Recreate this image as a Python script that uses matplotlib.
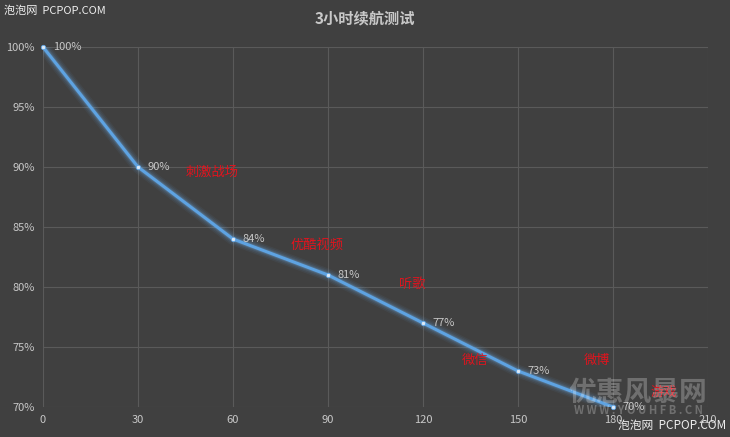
import matplotlib
matplotlib.use('Agg')
import matplotlib.pyplot as plt
from matplotlib.ticker import FuncFormatter

plt.rcParams['font.family'] = ['Noto Sans CJK SC', 'DejaVu Sans']

# ── data ──
minutes = [0, 30, 60, 90, 120, 150, 180]
battery = [100, 90, 84, 81, 77, 73, 70]
point_labels = ['100%', '90%', '84%', '81%', '77%', '73%', '70%']

app_names = ['刺激战场', '优酷视频', '听歌', '微信', '微博', '游戏']
app_x = [53.5, 86.5, 116.5, 136.5, 175, 196]
app_y = [89.6, 83.5, 80.2, 73.9, 73.9, 71.2]

BG = '#404040'
GRID = '#5a5a5a'
TXT = '#c8c8c8'
LINE = '#5ea3e2'

fig = plt.figure(figsize=(7.3, 4.37), dpi=100)
fig.patch.set_facecolor(BG)
ax = fig.add_axes([43 / 730, 30 / 437, 665 / 730, 360 / 437])
ax.set_facecolor(BG)

ax.set_xlim(0, 210)
ax.set_ylim(70, 100)
ax.set_xticks(range(0, 211, 30))
ax.set_yticks(range(70, 101, 5))
ax.yaxis.set_major_formatter(FuncFormatter(lambda v, _: f'{int(v)}%'))
ax.grid(True, color=GRID, linewidth=0.8)
ax.set_axisbelow(True)
for s in ax.spines.values():
    s.set_visible(False)
ax.tick_params(length=0, colors=TXT, labelsize=8, pad=6)

# glow around the line
for lw, a in [(9, 0.06), (7, 0.08), (5, 0.12), (3.5, 0.2)]:
    ax.plot(minutes, battery, color='#6fb4f0', linewidth=lw, alpha=a,
            solid_capstyle='round', solid_joinstyle='round', zorder=3)
ax.plot(minutes, battery, color=LINE, linewidth=2.2, zorder=4,
        solid_joinstyle='round')
ax.scatter(minutes, battery, s=10, color='#dbe9f7', edgecolor=LINE,
           linewidth=0.6, zorder=5, clip_on=False)

for x, y, lab in zip(minutes, battery, point_labels):
    ax.annotate(lab, (x, y), xytext=(7, 0), textcoords='offset points',
                color=TXT, fontsize=8, va='center', ha='left', zorder=6,
                annotation_clip=False)

for name, x, y in zip(app_names, app_x, app_y):
    ax.text(x, y, name, color='#e0141e', fontsize=9.5, ha='center', va='center',
            zorder=6)

# title + watermarks
fig.text(365 / 730, 1 - 18 / 437, '3小时续航测试', color=TXT, fontsize=11,
         fontweight='bold', ha='center', va='center')
fig.text(4 / 730, 1 - 11 / 437, '泡泡网  PCPOP.COM', color='#eeeeee',
         fontsize=8, ha='left', va='center')
fig.text(726 / 730, 1 - 425 / 437, '泡泡网  PCPOP.COM', color='#eeeeee',
         fontsize=8.5, ha='right', va='center', zorder=10)
fig.text(638 / 730, 1 - 393 / 437, '优惠风暴网', color='#ffffff', alpha=0.25,
         fontsize=20, fontweight='bold', ha='center', va='center')
fig.text(638 / 730, 1 - 411 / 437, 'W W W . Y O U H F B . C N', color='#ffffff',
         alpha=0.25, fontsize=8, fontweight='bold', ha='center', va='center')

fig.savefig('out.png', dpi=100, facecolor=fig.get_facecolor())
